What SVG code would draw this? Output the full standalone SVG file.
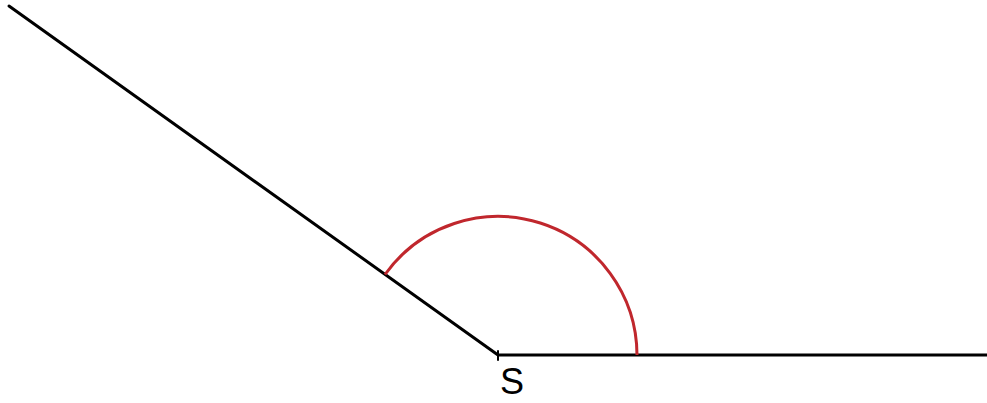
<svg xmlns="http://www.w3.org/2000/svg" width="987" height="403" viewBox="0 0 987 403">
<style>
.ln{stroke:#000;stroke-width:3;fill:none;stroke-linecap:round}
.arc{stroke:#c0272d;stroke-width:3;fill:none}
.lbl{font-family:"Liberation Sans",Arial,sans-serif;font-size:36px;fill:#000}
</style>
<rect width="987" height="403" fill="#fff"/>
<g id="connectors">
<line class="ln" x1="9" y1="6" x2="498" y2="355"/>
<line class="ln" x1="498" y1="355" x2="987" y2="355" style="stroke-linecap:butt"/>
<line class="ln" x1="498" y1="351" x2="498" y2="360" style="stroke-width:2"/>
</g>
<g id="angle">
<path class="arc" d="M 385 274.5 A 139 139 0 0 1 637 355"/>
</g>
<g id="vertex-S">
<text class="lbl" x="500" y="394">S</text>
</g>
</svg>
